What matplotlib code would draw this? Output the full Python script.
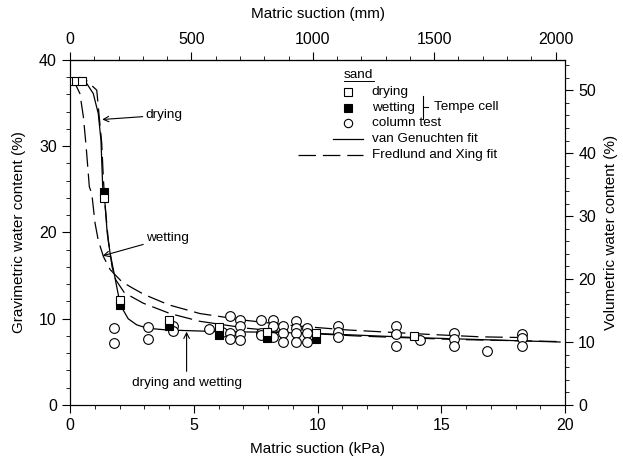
import matplotlib
matplotlib.use("Agg")
import matplotlib.pyplot as plt
from matplotlib.ticker import MultipleLocator, FixedLocator

plt.rcParams['font.family'] = ['Liberation Sans', 'DejaVu Sans']

# Tempe cell data (suction kPa, gravimetric water content %)
dry_x = [0.0, 0.25, 0.5, 1.39, 2.0, 4.0, 6.0, 7.95, 9.95, 13.9]
dry_y = [37.6, 37.6, 37.6, 24.0, 12.2, 9.8, 9.0, 8.5, 8.3, 8.0]
wet_x = [1.39, 2.0, 4.0, 6.0, 7.95, 9.95]
wet_y = [24.7, 11.6, 9.1, 8.1, 7.8, 7.6]

# column test
col_x = [1.79, 1.79, 3.16, 3.16, 4.15, 4.15, 5.62, 6.13,
         6.46, 6.46, 6.46, 6.85, 6.85, 6.85, 6.85,
         7.72, 7.72, 7.72, 8.19, 8.19, 8.19,
         8.62, 8.62, 8.62, 9.12, 9.12, 9.12, 9.12,
         9.59, 9.59, 9.59, 10.84, 10.84, 10.84,
         13.16, 13.16, 13.16, 14.14, 15.5, 15.5, 15.5,
         16.86, 18.25, 18.25, 18.25]
col_y = [8.9, 7.2, 9.0, 7.7, 9.2, 8.6, 8.8, 8.5,
         10.3, 8.3, 7.6, 9.8, 9.1, 8.2, 7.5,
         9.8, 8.4, 8.1, 9.9, 9.2, 7.9,
         9.2, 8.3, 7.3, 9.7, 8.9, 8.3, 7.3,
         8.9, 8.3, 7.3, 9.1, 8.5, 7.85,
         9.2, 8.2, 6.8, 7.5, 8.4, 7.6, 6.8,
         6.3, 8.2, 7.8, 6.8]

# fitted curves
vg_x = [0.0, 0.6, 0.94, 1.14, 1.25, 1.32, 1.39, 1.5, 1.62, 1.82, 1.99,
        2.15, 2.35, 2.69, 3.12, 3.9, 4.98, 6.06, 7.68, 9.94, 14.1, 19.8]
vg_y = [37.6, 37.6, 36.1, 33.8, 30.7, 25.3, 24.3, 20.0, 17.6, 14.7, 12.2,
        11.0, 10.0, 9.3, 8.9, 8.7, 8.6, 8.5, 8.45, 8.3, 7.8, 7.3]
fx_dry_x = [0.0, 0.67, 1.08, 1.18, 1.28, 1.35, 1.42, 1.55, 1.7, 1.85, 2.2,
            2.96, 4.04, 5.25, 7.14, 9.0, 11.6, 15.5, 19.8]
fx_dry_y = [37.6, 37.6, 36.5, 33.4, 30.4, 26.1, 23.0, 19.0, 16.0, 14.5, 13.0,
            11.8, 10.6, 9.7, 8.9, 8.4, 8.0, 7.6, 7.35]
fx_wet_x = [0.0, 0.2, 0.4, 0.54, 0.65, 0.78, 0.88, 1.01, 1.14, 1.35, 1.62,
            2.09, 2.5, 3.0, 4.0, 5.25, 7.14, 9.0, 11.2, 14.4, 16.6, 18.7]
fx_wet_y = [37.6, 37.3, 36.1, 33.4, 30.0, 25.3, 24.5, 21.1, 19.1, 17.2, 15.7,
            14.3, 13.6, 12.8, 11.6, 10.6, 9.8, 9.2, 8.7, 8.2, 7.9, 7.8]

mm_ticks = [0, 500, 1000, 1500, 2000]

dash = (14, 5.5)

fig = plt.figure(figsize=(6.23, 4.61), dpi=100)
ax = fig.add_axes([0.1124, 0.1215, 0.7945, 0.7484])

ax.plot(vg_x, vg_y, color='black', lw=0.9, zorder=2)
ax.plot(fx_dry_x, fx_dry_y, color='black', lw=0.9, dashes=dash, zorder=2)
ax.plot(fx_wet_x, fx_wet_y, color='black', lw=0.9, dashes=dash, zorder=2)

ax.plot(col_x, col_y, 'o', ms=7, mfc='white', mec='black', mew=0.8, zorder=3)
ax.plot(wet_x, wet_y, 's', ms=5.5, mfc='black', mec='black', mew=0.8, zorder=4)
ax.plot(dry_x, dry_y, 's', ms=5.5, mfc='white', mec='black', mew=0.8, zorder=5)

ax.set_xlim(0, 20)
ax.set_ylim(0, 40)
ax.xaxis.set_major_locator(MultipleLocator(5))
ax.xaxis.set_minor_locator(MultipleLocator(1))
ax.yaxis.set_major_locator(MultipleLocator(10))
ax.yaxis.set_minor_locator(MultipleLocator(2))
ax.tick_params(which='both', direction='out', labelsize=11.5)
ax.tick_params(which='major', length=6)
ax.tick_params(which='minor', length=3)
ax.set_xlabel('Matric suction (kPa)', fontsize=11, labelpad=6)
ax.set_ylabel('Gravimetric water content (%)', fontsize=11, labelpad=9)

# top axis in mm of water
top = ax.secondary_xaxis('top', functions=(lambda k: k * 1000 / 9.81,
                                            lambda m: m * 9.81 / 1000))
top.xaxis.set_major_locator(FixedLocator(mm_ticks))
top.xaxis.set_minor_locator(FixedLocator(list(range(0, 2001, 100))))
top.tick_params(which='both', direction='out', labelsize=11.5)
top.tick_params(which='major', length=6)
top.tick_params(which='minor', length=3)
top.set_xlabel('Matric suction (mm)', fontsize=11, labelpad=10)

# right axis, volumetric
rax = ax.twinx()
rax.set_ylim(0, 40 * 1.37)
rax.yaxis.set_major_locator(MultipleLocator(10))
rax.yaxis.set_minor_locator(MultipleLocator(2))
rax.tick_params(which='both', direction='out', labelsize=11.5)
rax.tick_params(which='major', length=6)
rax.tick_params(which='minor', length=3)
rax.set_ylabel('Volumetric water content (%)', fontsize=11, labelpad=6)

# annotations
fa = 9.7
arr = dict(arrowstyle='->', lw=0.8, color='black', shrinkA=0, shrinkB=0)
ax.annotate('drying', xy=(1.3, 33.1), xytext=(3.05, 33.6), fontsize=fa,
            va='center', ha='left', arrowprops=arr)
ax.annotate('wetting', xy=(1.32, 17.3), xytext=(3.07, 19.4), fontsize=fa,
            va='center', ha='left', arrowprops=arr)
ax.annotate('', xy=(4.71, 8.5), xytext=(4.71, 3.9), arrowprops=arr)
ax.text(4.71, 2.5, 'drying and wetting', fontsize=fa, ha='center', va='center')

# legend drawn by hand
fs = 9.7
ax.text(11.07, 38.3, 'sand', fontsize=fs, ha='left', va='center')
ax.plot([11.07, 12.3], [37.6, 37.6], color='black', lw=0.7)
ax.plot(11.25, 36.3, 's', ms=5.5, mfc='white', mec='black', mew=0.8)
ax.text(12.19, 36.3, 'drying', fontsize=fs, va='center')
ax.plot(11.25, 34.4, 's', ms=5.5, mfc='black', mec='black', mew=0.8)
ax.text(12.19, 34.4, 'wetting', fontsize=fs, va='center')
ax.plot(11.25, 32.7, 'o', ms=6, mfc='white', mec='black', mew=0.8)
ax.text(12.19, 32.7, 'column test', fontsize=fs, va='center')
ax.plot([10.64, 11.85], [30.8, 30.8], color='black', lw=0.9)
ax.text(12.19, 30.8, 'van Genuchten fit', fontsize=fs, va='center')
ax.plot([9.23, 11.85], [29.0, 29.0], color='black', lw=0.9, dashes=dash)
ax.text(12.19, 29.0, 'Fredlund and Xing fit', fontsize=fs, va='center')
ax.plot([14.25, 14.25], [35.8, 33.1], color='black', lw=0.8)
ax.plot([14.25, 14.48], [34.5, 34.5], color='black', lw=0.8)
ax.text(14.7, 34.5, 'Tempe cell', fontsize=fs, va='center')

fig.savefig('out.png', dpi=100)
